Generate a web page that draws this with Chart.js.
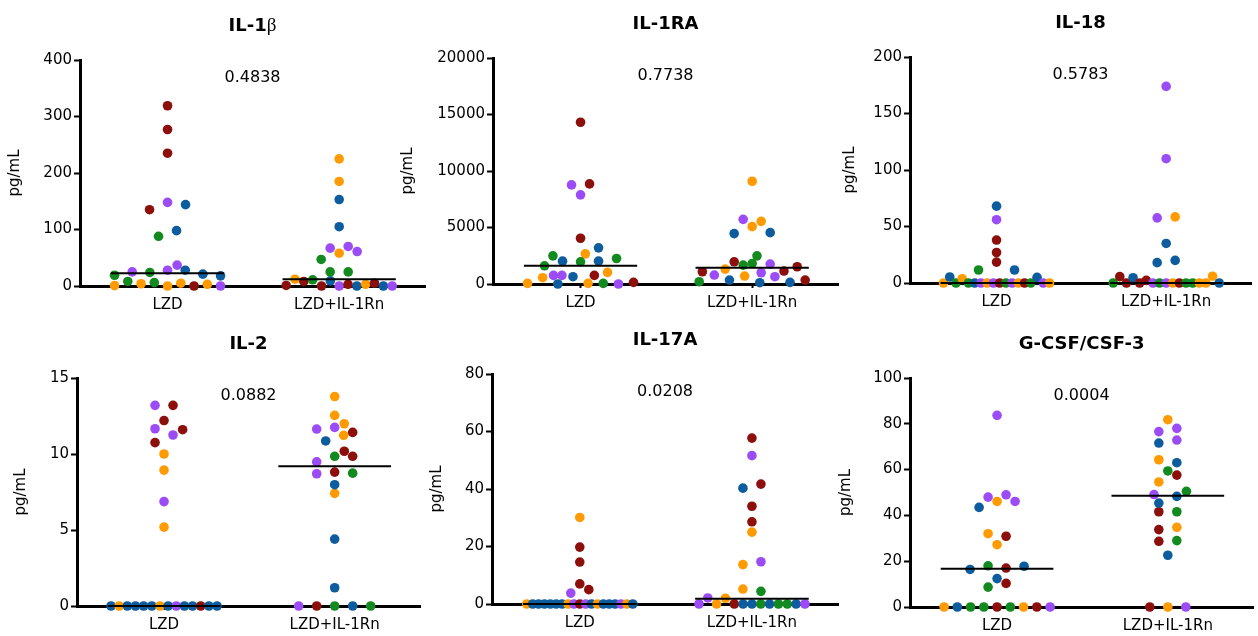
<!DOCTYPE html>
<html>
<head>
<meta charset="utf-8">
<script src="https://cdn.jsdelivr.net/npm/chart.js@4"></script>
<style>
  body { margin: 0; background: #fff; }
  #fig { position: relative; width: 1258px; height: 636px; overflow: hidden; }
  #fig canvas { position: absolute; }
</style>
</head>
<body>
<div id="fig"></div>
<script>
// Cytokine levels, LZD vs LZD+IL-1Rn, one dot per sample, line = median
const CATEGORIES = ['LZD', 'LZD+IL-1Rn'];

// batch letters: o, g, r, b, p (one per sample, same order as the values)
const il1bLzd = [0.6, 19, 8, 4, 25, 135, 6, 24, 88, 0, 28, 148, 235, 277, 319, 98, 5, 28, 144, 37, 0, 3, 21, 0, 18];
const il1bLzdBatch = 'oggoprgggopprrrbobbprobpb';
const il1bRn = [1, 12, 8, 47, 67, 11, 0, 9, 70, 0, 25, 105, 153, 185, 225, 3, 58, 0, 25, 3, 61, 5, 0, 0];
const il1bRnBatch = 'rorgpgrbppgbboorobgoprbp';
const il1bMedian = [22.5, 12];

const il1raLzd = [59, 763, 557, 2493, 763, 2669, 1613, 8770, 0, 763, 2024, 3197, 4048, 7890, 14313, 645, 1965, 8858, 59, 2024, 59, 2258, 0, 147, 1026];
const il1raLzdBatch = 'opogpogpbrbbrprbgrobggpro';
const il1raRn = [205, 1085, 1965, 792, 1818, 352, 1320, 5720, 4458, 704, 1672, 5074, 9093, 117, 997, 4546, 5543, 645, 1760, 147, 1144, 352, 1525, 2493];
const il1raRnBatch = 'grrpgbopbogoobpboppbrrrg';
const il1raMedian = [1613, 1437];

const il18Lzd = [0, 5.3, 0, 3.8, 0, 0, 0, 0, 0, 11.5, 0, 68, 56, 38, 27, 0, 18.5, 0, 0, 0, 0, 11.5, 5, 0, 0];
const il18LzdBatch = 'obgogbpopgrbprrgrporgbbpo';
const il18Rn = [0, 5.6, 0, 4.7, 0, 2.3, 0, 18, 57.6, 0, 0, 35, 110, 174, 0, 20, 58.5, 0, 0, 0, 0, 0, 6, 0];
const il18RnBatch = 'grrbrrpbpgpbppoborggooob';
const il18Median = [0, 0];

const il2Lzd = [0, 0, 0, 0, 0, 11.66, 10.75, 0, 13.2, 0, 5.19, 6.87, 8.94, 10.0, 11.6, 0, 0, 13.2, 0, 12.2, 11.25, 0, 0, 0, 0];
const il2LzdBatch = 'bobbbprbpoopoorbprbrpbrbb';
const il2Rn = [0, 10.86, 11.64, 12.54, 0, 8.7, 9.48, 10.18, 7.41, 11.75, 0, 1.2, 4.4, 8.81, 9.85, 13.78, 7.98, 11.23, 11.99, 0, 8.74, 9.85, 11.42, 0];
const il2RnBatch = 'pbporppropgbbrgoboobgrrg';
const il2Median = [0, 9.2];

const il17aLzd = [0, 0, 0, 0, 0, 0, 0, 3.8, 0, 0, 0, 7, 14.6, 19.8, 30.1, 0, 0, 0, 5, 0, 0, 0, 0, 0, 0];
const il17aLzdBatch = 'obbbbbbpoprrrropborbbbpob';
const il17aRn = [0, 2.1, 0, 2.0, 5.2, 0, 0, 13.7, 40.3, 0, 25, 28.6, 34, 51.6, 57.7, 0, 14.7, 41.7, 0, 4.4, 0, 0, 0, 0];
const il17aRnBatch = 'ppooorbobborrprgprbgggbp';
const il17aMedian = [0, 1.85];

const gcsfLzd = [0, 0, 16.4, 43.5, 48, 0, 8.7, 0, 18, 27.2, 32, 49, 0, 12.4, 83.7, 17, 30.9, 46.1, 0, 10.3, 0, 17.8, 46.1, 0, 0];
const gcsfLzdBatch = 'obbbpggggooprbprrogrobprp';
const gcsfRn = [0, 41.6, 49.1, 28.7, 33.8, 54.6, 59.4, 64.3, 71.6, 76.6, 81.8, 0, 22.6, 45.4, 50.5, 29, 34.8, 57.6, 63, 72.9, 78, 0, 41.6, 48.3];
const gcsfRnBatch = 'rrprrogobpoobbggorbpppgb';
const gcsfMedian = [16.7, 48.6];

const BATCH_COLORS = { o: '#ff9b00', g: '#138a1f', r: '#8c0f0b', b: '#0c5c9e', p: '#9b4cf6' };
const FONT = 'DejaVu Sans';

// panel boxes (canvas: left, top, width, height) and plot areas (left, top, right, bottom), page pixels
const panels = [
  { title: ['IL-1', 'β'], p: '0.4838', max: 400, step: 100, groups: [[il1bLzd, il1bLzdBatch], [il1bRn, il1bRnBatch]], median: il1bMedian,
    box: [0, 0, 432, 312], area: [80, 60, 425, 286] },
  { title: ['IL-1RA'], p: '0.7738', max: 20000, step: 5000, groups: [[il1raLzd, il1raLzdBatch], [il1raRn, il1raRnBatch]], median: il1raMedian,
    box: [393, 0, 452, 312], area: [493, 58, 838, 284] },
  { title: ['IL-18'], p: '0.5783', max: 200, step: 50, groups: [[il18Lzd, il18LzdBatch], [il18Rn, il18RnBatch]], median: il18Median,
    box: [835, 0, 423, 312], area: [910, 57, 1251, 283] },
  { title: ['IL-2'], p: '0.0882', max: 15, step: 5, groups: [[il2Lzd, il2LzdBatch], [il2Rn, il2RnBatch]], median: il2Median,
    box: [6, 312, 426, 324], area: [77, 378, 420, 606] },
  { title: ['IL-17A'], p: '0.0208', max: 80, step: 20, groups: [[il17aLzd, il17aLzdBatch], [il17aRn, il17aRnBatch]], median: il17aMedian,
    box: [422, 312, 423, 324], area: [492, 374, 838, 604] },
  { title: ['G-CSF/CSF-3'], p: '0.0004', max: 100, step: 20, groups: [[gcsfLzd, gcsfLzdBatch], [gcsfRn, gcsfRnBatch]], median: gcsfMedian,
    box: [831, 312, 427, 324], area: [910, 378, 1257, 607] },
];

const DOT = 9.6;        // dot diameter
const ROW_GAP = 8;      // values closer than this (px) share a row
const SLOT = 18;        // horizontal spacing inside a row
const MAX_W = 106;      // widest a row may get
const MIN_DIST = 8.5;

// simple row-based beeswarm, returns x offsets in pixels
function swarm(py) {
  const order = py.map((_, i) => i).sort((a, b) => py[b] - py[a] || a - b);
  const rows = [];
  let row = null;
  for (const i of order) {
    if (row && row.y0 - py[i] < ROW_GAP) row.members.push(i);
    else { row = { y0: py[i], members: [i] }; rows.push(row); }
  }
  const dx = new Array(py.length).fill(0);
  const placed = [];
  for (const r of rows) {
    const m = r.members.sort((a, b) => a - b);
    const step = m.length > 1 ? Math.min(SLOT, MAX_W / (m.length - 1)) : 0;
    const here = [];
    m.forEach((i, k) => {
      const pref = (k - (m.length - 1) / 2) * step;
      const side = pref < 0 ? -1 : 1;
      let x = pref;
      for (let t = 0; t < 40; t++) {
        const cand = pref + side * (t % 2 ? 1 : -1) * Math.ceil(t / 2) * DOT / 2;
        if (!placed.some(q => Math.hypot(q.x - cand, q.y - py[i]) < MIN_DIST)) { x = cand; break; }
      }
      dx[i] = x;
      here.push({ x, y: py[i] });
    });
    placed.push(...here);
  }
  return dx;
}

// panel title (the greek letter set in a serif face) and the p-value
const panelText = {
  id: 'panelText',
  afterDraw(chart, args, opts) {
    const { ctx, chartArea: a } = chart;
    const cx = (a.left + a.right) / 2;
    const fonts = [`bold 18px "${FONT}"`, '19px "Liberation Serif"'];
    ctx.save();
    ctx.fillStyle = '#000';
    ctx.textBaseline = 'middle';
    const widths = opts.title.map((s, i) => { ctx.font = fonts[i]; return ctx.measureText(s).width; });
    let x = cx - widths.reduce((s, w) => s + w, 0) / 2;
    opts.title.forEach((s, i) => {
      ctx.font = fonts[i];
      ctx.textAlign = 'left';
      ctx.fillText(s, x, a.top - 34);
      x += widths[i];
    });
    ctx.textAlign = 'center';
    ctx.font = `16px "${FONT}"`;
    ctx.fillText(opts.p, cx, a.top + 18);
    ctx.restore();
  }
};

const fig = document.getElementById('fig');

panels.forEach(pn => {
  const [bx, by, bw, bh] = pn.box;
  const [al, at, ar, ab] = pn.area;
  const canvas = document.createElement('canvas');
  canvas.width = bw;
  canvas.height = bh;
  canvas.style.left = bx + 'px';
  canvas.style.top = by + 'px';
  fig.appendChild(canvas);

  const dotSets = pn.groups.map(([vals, batch], gi) => ({
    type: 'scatter',
    data: vals.map(v => ({ x: gi + 1, y: v })),
    backgroundColor: batch.split('').map(k => BATCH_COLORS[k]),
    borderWidth: 0,
    pointRadius: DOT / 2,
    clip: false,
    order: 2,
  }));
  const medianSets = pn.median.map((m, gi) => ({
    type: 'line',
    data: [{ x: gi + 1 - 0.33, y: m }, { x: gi + 1 + 0.33, y: m }],
    borderColor: '#000',
    borderWidth: 2,
    pointRadius: 0,
    clip: false,
    order: 1,
  }));

  const chart = new Chart(canvas, {
    type: 'scatter',
    data: { datasets: [...dotSets, ...medianSets] },
    plugins: [panelText],
    options: {
      responsive: false,
      animation: false,
      events: [],
      layout: { padding: { left: 0, top: at - by, right: bx + bw - ar, bottom: 0 } },
      plugins: {
        legend: { display: false },
        tooltip: { enabled: false },
        panelText: { title: pn.title, p: pn.p },
      },
      scales: {
        x: {
          type: 'linear',
          min: 0.49,
          max: 2.5,
          afterBuildTicks: s => { s.ticks = [{ value: 1 }, { value: 2 }]; },
          afterFit: s => { s.height = by + bh - ab; },
          ticks: {
            callback: v => CATEGORIES[v - 1],
            color: '#000',
            font: { family: FONT, size: 15 },
            padding: 6,
            maxRotation: 0,
            autoSkip: false,
          },
          grid: { drawOnChartArea: false, tickLength: 4, tickWidth: 2, tickColor: '#000' },
          border: { width: 3, color: '#000' },
        },
        y: {
          min: 0,
          max: pn.max,
          afterFit: s => { s.width = al - bx; },
          ticks: { stepSize: pn.step, callback: v => String(v), color: '#000', font: { family: FONT, size: 15 }, padding: 2 },
          grid: { drawOnChartArea: false, tickLength: 6, tickWidth: 2, tickColor: '#000' },
          border: { width: 3, color: '#000' },
          title: { display: true, text: 'pg/mL', color: '#000', font: { family: FONT, size: 15 }, padding: { top: 6, bottom: 0 } },
        },
      },
    },
  });

  // spread the dots sideways now that the scales are known
  const xs = chart.scales.x, ys = chart.scales.y;
  pn.groups.forEach(([vals], gi) => {
    const cx = xs.getPixelForValue(gi + 1);
    const dx = swarm(vals.map(v => ys.getPixelForValue(v)));
    chart.data.datasets[gi].data = vals.map((v, i) => ({ x: xs.getValueForPixel(cx + dx[i]), y: v }));
  });
  chart.update('none');
});
</script>
</body>
</html>
